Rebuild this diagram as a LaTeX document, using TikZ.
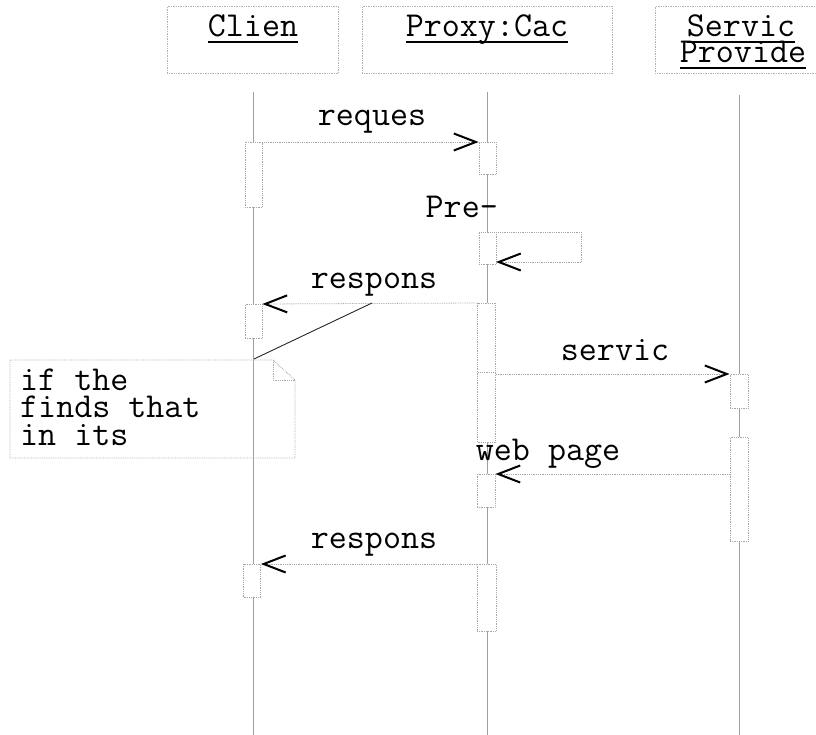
\documentclass[tikz,border=0pt]{standalone}
\usepackage{fontspec}
\usetikzlibrary{arrows.meta}
\begin{document}
\begin{tikzpicture}[x=1pt,y=-1pt,
  hdr/.style={draw=gray!60, densely dotted, line width=0.7pt, inner sep=0pt, anchor=north west},
  lbl/.style={font=\ttfamily\fontsize{35}{35}\selectfont, inner sep=0pt, anchor=base},
  life/.style={draw=gray!75, line width=0.7pt},
  act/.style={draw=gray!70, densely dotted, line width=0.8pt, fill=white, minimum width=17pt, inner sep=0pt, anchor=north},
  msg/.style={draw=gray!70, densely dotted, line width=0.8pt, -{Straight Barb[length=22pt,width=17pt,line width=2pt,black]}},
  selfl/.style={draw=gray!70, densely dotted, line width=0.8pt},
  uln/.style={line width=1.8pt, black},
  notebox/.style={draw=gray!70, densely dotted, line width=0.8pt},
  notel/.style={draw=black!85, line width=0.9pt}
]
\useasboundingbox (0,0) rectangle (816,735);

% header boxes
\node[hdr, minimum width=171pt, minimum height=67pt] (hc) at (167,6) {};
\node[hdr, minimum width=250pt, minimum height=67pt] (hp) at (362,6) {};
\node[hdr, minimum width=161pt, minimum height=67pt] (hs) at (655,6) {};

% header texts
\node[lbl] (tc) at (253,37) {Clien};
\node[lbl] (tp) at (487,37) {Proxy:Cac};
\node[lbl] (ts1) at (741,37) {Servic};
\node[lbl] (ts2) at (743,63) {Provide};
\draw[uln] ([yshift=-5pt]tc.base west) -- ([yshift=-5pt]tc.base east);
\draw[uln] ([yshift=-5pt]tp.base west) -- ([yshift=-5pt]tp.base east);
\draw[uln] ([yshift=-5pt]ts1.base west) -- ([yshift=-5pt]ts1.base east);
\draw[uln] ([yshift=-5pt]ts2.base west) -- ([yshift=-5pt]ts2.base east);

% lifelines
\coordinate (lc0) at (253,92);  \coordinate (lc1) at (253,735);
\coordinate (lp0) at (487,92);  \coordinate (lp1) at (487,735);
\coordinate (ls0) at (739,95);  \coordinate (ls1) at (739,735);
\draw[life] (lc0) -- (lc1);
\draw[life] (lp0) -- (lp1);
\draw[life] (ls0) -- (ls1);

% activation boxes
\node[act, minimum height=65pt] (c1) at (253.5,142) {};
\node[act, minimum height=34pt] (c2) at (253.5,304) {};
\node[act, minimum height=33pt] (c3) at (252,564) {};
\node[act, minimum height=32pt] (p1) at (487.5,142) {};
\node[act, minimum height=32pt] (p2) at (487.5,232) {};
\node[act, minimum height=69pt, minimum width=18pt] (p3) at (486.5,303) {};
\node[act, minimum height=70pt, minimum width=18pt] (p4) at (486.5,372) {};
\node[act, minimum height=33pt, minimum width=18pt] (p5) at (486,474) {};
\node[act, minimum height=67pt, minimum width=19pt] (p6) at (486.5,564) {};
\node[act, minimum height=34pt, minimum width=18pt] (s1) at (739,374) {};
\node[act, minimum height=104pt, minimum width=18pt] (s2) at (739,437) {};

% messages
\draw[msg] (c1.north east) -- (p1.north west);
\node[lbl] (treq) at (372,126) {reques};

\node[lbl, anchor=base east] (tpre) at (498,218) {Pre-};
\coordinate (sr1) at (581,232);
\coordinate (sr2) at (581,262);
\coordinate (sr3) at (496,262);
\draw[selfl] (p2.north east) -- (sr1) -- (sr2);
\draw[msg] (sr2) -- (sr3);

\draw[msg] (p3.north west) -- (c2.north east);
\node[lbl] (tres1) at (374,288) {respons};

\draw[msg] ([yshift=-2pt]p4.north east) -- (s1.north west);
\node[lbl] (tserv) at (615,360) {servic};

\coordinate (wp) at (s2.west |- p5.north);
\draw[msg] (wp) -- (p5.north east);
\node[lbl] (tweb) at (548,460) {web page};

\draw[msg] (p6.north west) -- (c3.north east);
\node[lbl] (tres2) at (374,548) {respons};

% note
\coordinate (na) at (10,360);
\coordinate (nb) at (273,360);
\coordinate (nc) at (295,380);
\coordinate (nd) at (295,458);
\coordinate (ne) at (10,458);
\coordinate (nf) at (273,380);
\draw[notebox] (na) -- (nb) -- (nc) -- (nd) -- (ne) -- cycle;
\draw[notebox] (nb) -- (nf) -- (nc);
\node[lbl, anchor=base west] (n1) at (20,390) {if the};
\node[lbl, anchor=base west] (n2) at (20,417.5) {finds that};
\node[lbl, anchor=base west] (n3) at (20,445) {in its};
\coordinate (nt) at (254,359);
\coordinate (nm) at (372,303);
\draw[notel] (nt) -- (nm);
\end{tikzpicture}
\end{document}
